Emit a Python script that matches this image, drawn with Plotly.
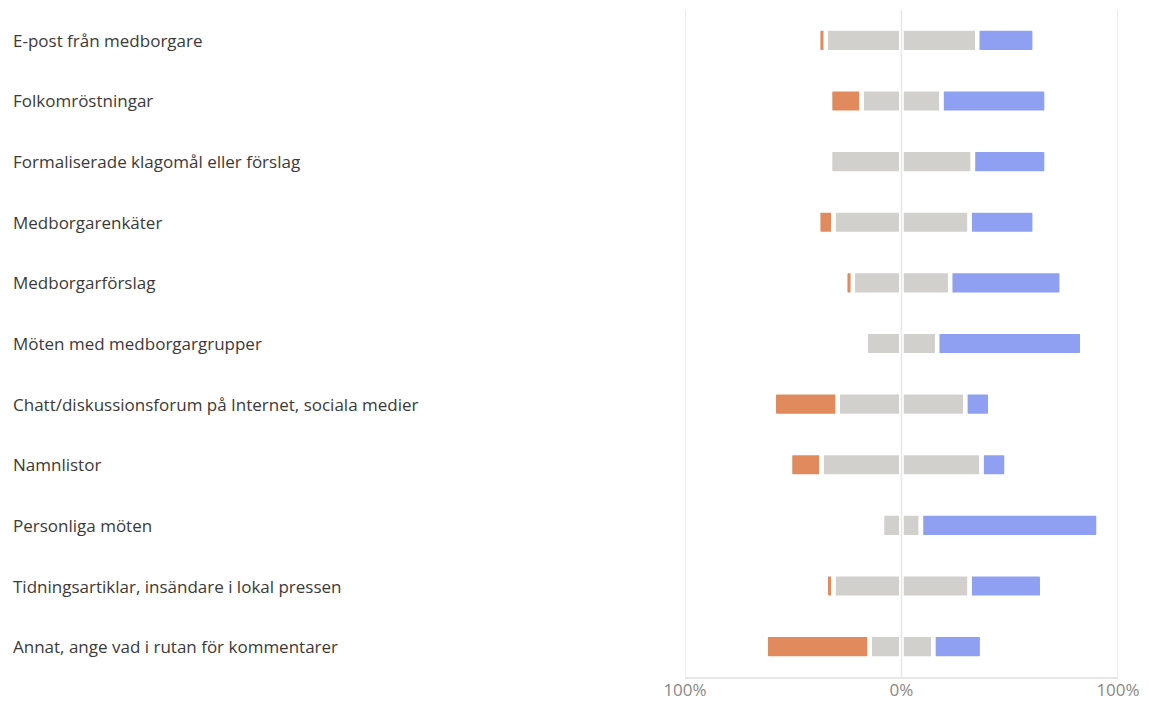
import plotly.graph_objects as go

categories = [
    "E-post från medborgare",
    "Folkomröstningar",
    "Formaliserade klagomål eller förslag",
    "Medborgarenkäter",
    "Medborgarförslag",
    "Möten med medborgargrupper",
    "Chatt/diskussionsforum på Internet, sociala medier",
    "Namnlistor",
    "Personliga möten",
    "Tidningsartiklar, insändare i lokal pressen",
    "Annat, ange vad i rutan för kommentarer",
]
# percent of answers per category
negative = [3.5, 14.5, 0, 7, 3.5, 0, 29.5, 14.5, 0, 3.5, 48]
neutral = [70, 37, 66, 63, 45, 33, 59, 74, 18, 63, 29.5]
positive = [26.5, 48.5, 34, 30, 51.5, 67, 11.5, 11.5, 82, 33.5, 22.5]

tick_vals = [-100, 0, 100]
tick_text = ["100%", "0%", "100%"]

ORANGE = "#E08A5E"
GRAY = "#D2D0CD"
BLUE = "#8FA0F2"
GAP = dict(color="white", width=4.5)
BW = 0.39

fig = go.Figure()
fig.add_trace(go.Bar(y=categories, x=[-v / 2 for v in neutral], orientation="h",
                     marker=dict(color=GRAY, line=GAP), width=BW, name="neutral-l"))
fig.add_trace(go.Bar(y=categories, x=[v / 2 for v in neutral], orientation="h",
                     marker=dict(color=GRAY, line=GAP), width=BW, name="neutral-r"))
fig.add_trace(go.Bar(y=categories, x=[-v for v in negative], orientation="h",
                     marker=dict(color=ORANGE, line=GAP), width=BW, name="negative"))
fig.add_trace(go.Bar(y=categories, x=positive, orientation="h",
                     marker=dict(color=BLUE, line=GAP), width=BW, name="positive"))

for c in categories:
    fig.add_annotation(x=-1.557, xref="paper", y=c, yref="y", text=c,
                       showarrow=False, xanchor="left", yanchor="middle",
                       font=dict(size=17, color="#3B3A39"))

for v in tick_vals:
    fig.add_shape(type="line", xref="x", yref="paper", x0=v, x1=v, y0=0, y1=1,
                  line=dict(color="#E6E6E6", width=1.5), layer="above" if v == 0 else "below")

fig.update_layout(
    barmode="relative",
    barcornerradius=3,
    width=1149, height=702,
    margin=dict(l=685, r=31, t=10, b=25, autoexpand=False),
    plot_bgcolor="white", paper_bgcolor="white",
    showlegend=False,
    font=dict(family="Open Sans, Noto Sans, sans-serif"),
    xaxis=dict(range=[-100, 100], tickvals=tick_vals, ticktext=tick_text,
               showgrid=False, zeroline=False, automargin=False,
               showline=True, linecolor="#E6E6E6", linewidth=1.5,
               ticklabelstandoff=-3,
               tickfont=dict(size=17, color="#8A8886"), fixedrange=True),
    yaxis=dict(autorange=False, showticklabels=False, showgrid=False,
               zeroline=False, range=[10.5, -0.5], automargin=False,
               fixedrange=True),
)

fig.write_html("out.html", config={"displayModeBar": False},
               post_script="document.body.style.margin='0px';")
